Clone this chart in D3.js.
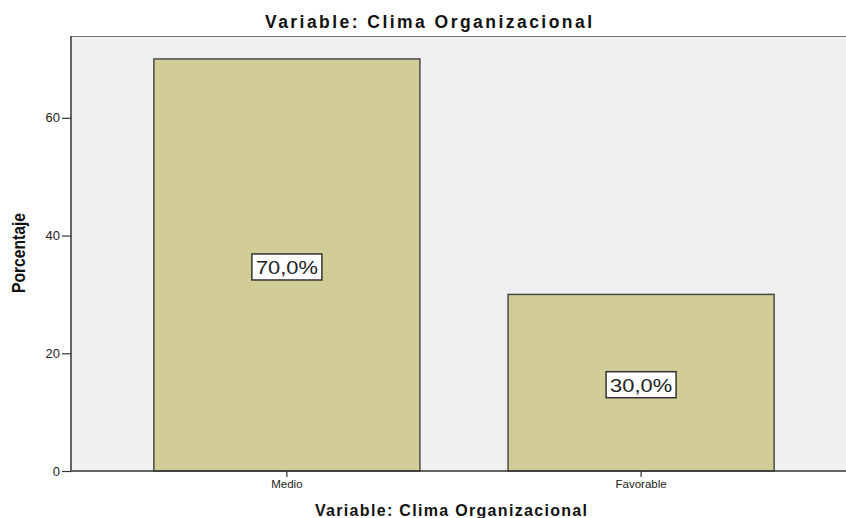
<!DOCTYPE html>
<html>
<head>
<meta charset="utf-8">
<script src="https://cdn.jsdelivr.net/npm/d3@7"></script>
<style>
  body { margin: 0; background: #fff; }
  svg { display: block; }
  text { font-family: Arial, "Liberation Sans", sans-serif; }
</style>
</head>
<body>
<svg id="chart" width="846" height="518"></svg>
<script>
// data
const categories = ["Medio", "Favorable"];
const percentages = [70.0, 30.0];
const yTicks = [0, 20, 40, 60];
const titleText = "Variable: Clima Organizacional";
const yLabel = "Porcentaje";

const svg = d3.select("#chart");
const plot = { left: 71, top: 36, right: 857, bottom: 471 };

const x = d3.scaleBand()
	.domain(categories)
	.range([plot.left, plot.right])
	.paddingInner(0.249)
	.paddingOuter(0.234);

const y = d3.scaleLinear()
	.domain([0, 73.9])
	.range([plot.bottom, plot.top]);

// plot background
svg.append("rect")
	.attr("x", plot.left)
	.attr("y", plot.top)
	.attr("width", plot.right - plot.left)
	.attr("height", plot.bottom - plot.top)
	.attr("fill", "#f0f0f0");

svg.append("line")
	.attr("x1", plot.left).attr("x2", plot.right)
	.attr("y1", plot.top + 0.5).attr("y2", plot.top + 0.5)
	.attr("stroke", "#777").attr("stroke-width", 1);

// bars
svg.append("g")
	.selectAll("rect")
	.data(categories)
	.enter().append("rect")
	.attr("x", function(d) { return x(d); })
	.attr("y", function(d, i) { return y(percentages[i]); })
	.attr("width", x.bandwidth())
	.attr("height", function(d, i) { return y(0) - y(percentages[i]); })
	.attr("fill", "#d2cd96")
	.attr("stroke", "#4a4a4a")
	.attr("stroke-width", 1.5);

// y axis
const yAxis = svg.append("g")
	.attr("transform", "translate(" + plot.left + ",0)")
	.call(d3.axisLeft(y).tickValues(yTicks).tickSize(9).tickPadding(2));
yAxis.select(".domain").attr("stroke", "#333").attr("stroke-width", 1.5)
	.attr("d", "M0," + plot.top + "V" + plot.bottom);
yAxis.selectAll(".tick line").attr("stroke", "#333").attr("stroke-width", 1.2);
yAxis.selectAll(".tick text").attr("font-size", 13).attr("fill", "#222")
	.attr("font-family", "Arial, 'Liberation Sans', sans-serif");

// x axis
const xAxis = svg.append("g")
	.attr("transform", "translate(0," + plot.bottom + ")")
	.call(d3.axisBottom(x).tickSize(6).tickPadding(3));
xAxis.select(".domain").attr("stroke", "#333").attr("stroke-width", 1.5)
	.attr("d", "M" + plot.left + ",0H" + plot.right);
xAxis.selectAll(".tick line").attr("stroke", "#333").attr("stroke-width", 1.2);
xAxis.selectAll(".tick text").attr("font-size", 11.5).attr("fill", "#222")
	.attr("font-family", "Arial, 'Liberation Sans', sans-serif");

// value labels with white boxes
const labels = svg.append("g")
	.selectAll("g")
	.data(categories)
	.enter().append("g")
	.attr("transform", function(d, i) {
		return "translate(" + (x(d) + x.bandwidth() / 2) + "," + (y(percentages[i] / 2) + 2) + ")";
	});
labels.append("rect")
	.attr("x", -35).attr("y", -13)
	.attr("width", 70).attr("height", 26)
	.attr("fill", "#fff")
	.attr("stroke", "#333")
	.attr("stroke-width", 1.5);
labels.append("text")
	.attr("x", -31)
	.attr("dy", "0.36em")
	.attr("font-size", 19)
	.attr("textLength", 62).attr("lengthAdjust", "spacingAndGlyphs")
	.attr("fill", "#222")
	.text(function(d, i) { return d3.format(".1f")(percentages[i]).replace(".", ",") + "%"; });

// titles
svg.append("text")
	.attr("x", 265).attr("y", 28)
	.attr("font-size", 17.5).attr("font-weight", "bold")
	.attr("textLength", 327).attr("lengthAdjust", "spacing")
	.attr("fill", "#111")
	.text(titleText);

svg.append("text")
	.attr("x", 315).attr("y", 516)
	.attr("font-size", 16).attr("font-weight", "bold")
	.attr("textLength", 272).attr("lengthAdjust", "spacing")
	.attr("fill", "#111")
	.text(titleText);

svg.append("text")
	.attr("transform", "translate(25,253) rotate(-90)")
	.attr("text-anchor", "middle")
	.attr("font-size", 18).attr("font-weight", "bold")
	.attr("font-family", "'Liberation Sans Narrow', 'DejaVu Sans Condensed', Arial, sans-serif")
	.attr("textLength", 80).attr("lengthAdjust", "spacingAndGlyphs")
	.attr("fill", "#111")
	.text(yLabel);
</script>
</body>
</html>
